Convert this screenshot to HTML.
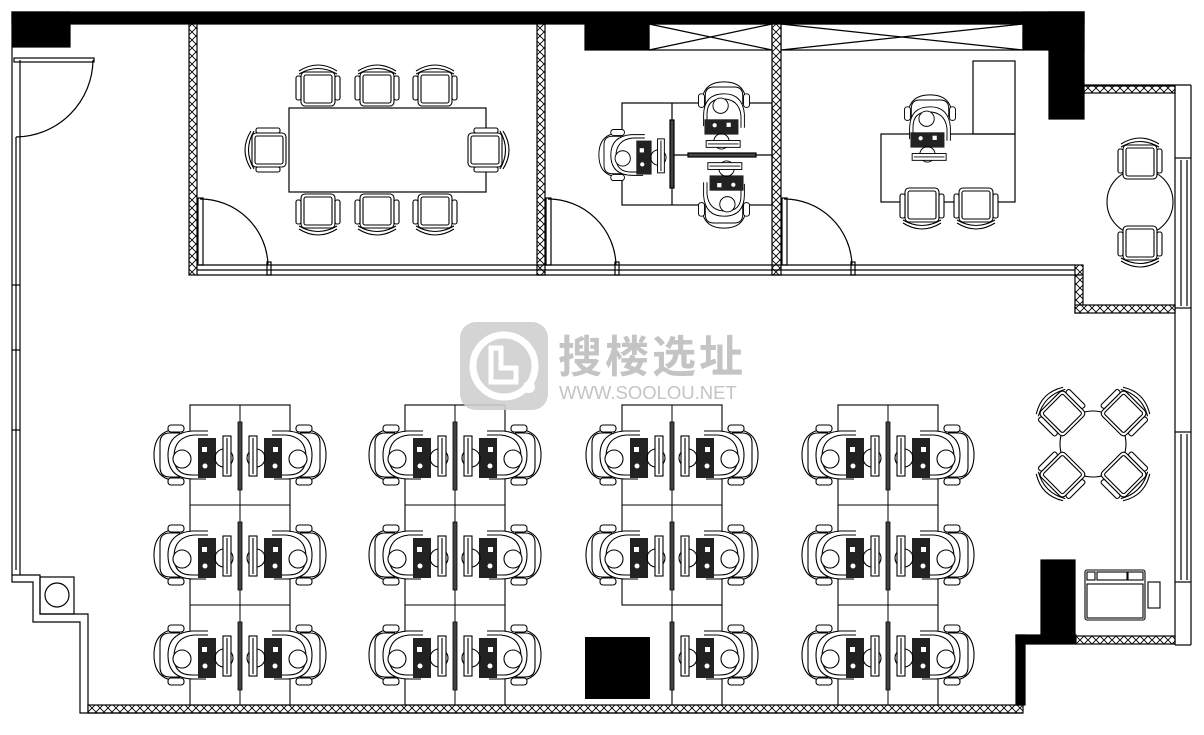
<!DOCTYPE html>
<html><head><meta charset="utf-8"><style>html,body{margin:0;padding:0;background:#fff}svg{display:block}</style></head>
<body>
<svg width="1204" height="735" viewBox="0 0 1204 735" xmlns="http://www.w3.org/2000/svg">
<defs>
<pattern id="hx" width="8" height="8" patternUnits="userSpaceOnUse"><rect width="8" height="8" fill="#fff"/><path d="M0 0L8 8M8 0L0 8" stroke="#000" stroke-width="0.9"/></pattern>
<g id="ch" fill="none" stroke="#000" stroke-width="1.1">
<rect x="-17" y="-19" width="34" height="34" rx="4" fill="#fff"/><rect x="-14" y="-16" width="28" height="28" rx="2"/>
<path d="M-19 13 Q0 24 19 13"/><path d="M-19 16 Q0 28 19 16"/>
<rect x="-22" y="-13" width="5" height="24" rx="2" fill="#fff"/><rect x="17" y="-13" width="5" height="24" rx="2" fill="#fff"/>
</g>
<g id="ws" fill="none" stroke="#000" stroke-width="1.1">
<path d="M-60 -26 Q-86 -26 -86 0 Q-86 26 -60 26" fill="#fff"/>
<path d="M-60 -22 L-70 -22 Q-80 -22 -80 -12 L-80 12 Q-80 22 -70 22 L-60 22"/>
<rect x="-72" y="-30" width="16" height="7" rx="3" fill="#fff"/><rect x="-72" y="23" width="16" height="7" rx="3" fill="#fff"/>
<path d="M-32 -24 L-48 -24 Q-72 -22 -72 0 Q-72 24 -46 24 L-34 24" fill="#fff"/>
<path d="M-32 -20 L-46 -20 Q-66 -18 -66 2 Q-66 20 -48 20 L-36 20"/>
<circle cx="-58" cy="4" r="9" fill="#fff"/>
<rect x="-42" y="-17" width="18" height="40" fill="#222" stroke="none"/>
<rect x="-38" y="-8" width="5" height="5" fill="#fff" stroke="none"/><circle cx="-35" cy="11" r="2.5" fill="#fff" stroke="none"/>
<circle cx="-16" cy="3" r="9"/>
<rect x="-17" y="-19" width="8" height="40" fill="#fff"/><line x1="-13" y1="-17" x2="-13" y2="19"/>
</g>
<g id="pair">
<line x1="0" y1="-50" x2="0" y2="50" stroke="#000"/>
<use href="#ws"/><use href="#ws" transform="scale(-1,1)"/>
<rect x="-2" y="-33" width="4" height="68" fill="#444" stroke="#000" stroke-width="0.8"/>
</g>
</defs>

<g fill="none" stroke="#000" stroke-width="1.2">
<!-- top wall -->
<rect x="12" y="12" width="1072" height="12" fill="#000"/>
<rect x="12" y="12" width="58" height="35" fill="#000"/>
<rect x="585" y="22" width="64" height="28" fill="#000"/>
<rect x="1023" y="12" width="61" height="38" fill="#000"/>
<rect x="1049" y="12" width="35" height="107" fill="#000"/>
<rect x="649" y="24" width="123" height="26"/><path d="M649 24L772 50M649 50L772 24"/>
<rect x="781" y="24" width="242" height="26"/><path d="M781 24L1023 50M781 50L1023 24"/>
<!-- right upper hatch strip -->
<rect x="1084" y="86" width="91" height="7" fill="url(#hx)"/>
<!-- right wall -->
<line x1="1175" y1="85" x2="1175" y2="645"/><line x1="1191" y1="85" x2="1191" y2="645"/>
<line x1="1084" y1="85" x2="1191" y2="85"/>
<line x1="1175" y1="158" x2="1191" y2="158"/><line x1="1175" y1="308" x2="1191" y2="308"/>
<line x1="1175" y1="432" x2="1191" y2="432"/><line x1="1175" y1="582" x2="1191" y2="582"/>
<line x1="1181" y1="160" x2="1181" y2="306"/><line x1="1187" y1="160" x2="1187" y2="306"/>
<line x1="1181" y1="434" x2="1181" y2="580"/><line x1="1187" y1="434" x2="1187" y2="580"/>
<line x1="1175" y1="645" x2="1191" y2="645"/>
<!-- left wall -->
<line x1="12" y1="47" x2="12" y2="575"/><line x1="20" y1="60" x2="20" y2="575"/>
<line x1="16" y1="137" x2="16" y2="570"/>
<line x1="12" y1="285" x2="20" y2="285"/><line x1="12" y1="350" x2="20" y2="350"/><line x1="12" y1="430" x2="20" y2="430"/>
<rect x="14" y="58" width="80" height="4"/>
<path d="M93 60 A78 78 0 0 1 16 137"/>
<!-- bottom left steps -->
<path d="M12 575 L12 582 L33 582 L33 622 L80 622 L80 713 L88 713 L88 614 L40 614 L40 575 Z"/>
<rect x="40" y="577" width="34" height="37"/><circle cx="57" cy="595" r="12"/>
<!-- bottom wall -->
<rect x="88" y="705" width="935" height="8" fill="url(#hx)"/>
<line x1="88" y1="713" x2="1023" y2="713"/>
<rect x="1016" y="635" width="9" height="70" fill="#000"/>
<rect x="1016" y="635" width="60" height="9" fill="#000"/>
<rect x="1041" y="560" width="34" height="80" fill="#000"/>
<rect x="1076" y="636" width="99" height="8" fill="url(#hx)"/>
<!-- right room lower hatch -->
<rect x="1075" y="265" width="8" height="48" fill="url(#hx)"/>
<rect x="1075" y="305" width="100" height="8" fill="url(#hx)"/>
<!-- partitions -->
<rect x="189" y="24" width="8" height="251" fill="url(#hx)"/>
<rect x="537" y="24" width="8" height="251" fill="url(#hx)"/>
<rect x="772" y="24" width="9" height="251" fill="url(#hx)"/>
<line x1="197" y1="265" x2="1075" y2="265"/><line x1="197" y1="275" x2="1083" y2="275"/><line x1="197" y1="270" x2="1075" y2="270"/>
<rect x="198" y="198" width="5" height="67"/><path d="M200 199 A68 68 0 0 1 268 265"/><rect x="267" y="262" width="4" height="13"/>
<rect x="546" y="198" width="5" height="67"/><path d="M548 199 A68 68 0 0 1 616 265"/><rect x="615" y="262" width="4" height="13"/>
<rect x="782" y="198" width="5" height="67"/><path d="M784 199 A68 68 0 0 1 852 265"/><rect x="851" y="262" width="4" height="13"/>
<!-- meeting room -->
<rect x="289" y="108" width="197" height="84"/>
</g>
<use href="#ch" transform="translate(318,87) rotate(180)"/>
<use href="#ch" transform="translate(377,87) rotate(180)"/>
<use href="#ch" transform="translate(435,87) rotate(180)"/>
<use href="#ch" transform="translate(318,213)"/>
<use href="#ch" transform="translate(377,213)"/>
<use href="#ch" transform="translate(435,213)"/>
<use href="#ch" transform="translate(267,150) rotate(90)"/>
<use href="#ch" transform="translate(487,150) rotate(-90)"/>

<!-- office 2 -->
<g fill="none" stroke="#000" stroke-width="1.2">
<rect x="622" y="103" width="150" height="102"/>
<line x1="672" y1="103" x2="672" y2="205"/><line x1="672" y1="155" x2="772" y2="155"/>
<rect x="670" y="120" width="4" height="68" fill="#444"/>
<rect x="688" y="153" width="68" height="4" fill="#444"/>
</g>
<use href="#ws" transform="translate(672,155) scale(0.85)"/>
<use href="#ws" transform="translate(724,155) rotate(90) scale(0.85)"/>
<use href="#ws" transform="translate(724,155) rotate(-90) scale(0.85)"/>

<!-- office 3 -->
<g fill="none" stroke="#000" stroke-width="1.2">
<rect x="973" y="61" width="42" height="73"/>
<rect x="881" y="134" width="134" height="68"/>
</g>
<use href="#ws" transform="translate(930,168) rotate(90) scale(0.85)"/>
<use href="#ch" transform="translate(922,207)"/>
<use href="#ch" transform="translate(976,207)"/>

<!-- round table right -->
<circle cx="1140" cy="202" r="33" fill="none" stroke="#000" stroke-width="1.1"/>
<use href="#ch" transform="translate(1140,160) rotate(180)"/>
<use href="#ch" transform="translate(1140,245)"/>

<!-- 4-chair table -->
<circle cx="1093" cy="444" r="33" fill="#fff" stroke="#000" stroke-width="1.1"/>
<use href="#ch" transform="translate(1061,412) rotate(135)"/>
<use href="#ch" transform="translate(1125,412) rotate(-135)"/>
<use href="#ch" transform="translate(1061,476) rotate(45)"/>
<use href="#ch" transform="translate(1125,476) rotate(-45)"/>

<!-- printer -->
<g fill="none" stroke="#000" stroke-width="1.1">
<rect x="1148" y="582" width="12" height="26" fill="#fff"/>
<rect x="1085" y="570" width="60" height="50" rx="2" fill="#fff"/>
<rect x="1087" y="572" width="8" height="8"/><rect x="1097" y="572" width="30" height="8"/><rect x="1128" y="572" width="15" height="8"/>
<rect x="1087" y="584" width="56" height="34"/>
</g>

<!-- workstation clusters -->
<g fill="none" stroke="#000" stroke-width="1.1">
<rect x="190" y="405" width="100" height="300"/><line x1="190" y1="505" x2="290" y2="505"/><line x1="190" y1="605" x2="290" y2="605"/>
<rect x="405" y="405" width="100" height="300"/><line x1="405" y1="505" x2="505" y2="505"/><line x1="405" y1="605" x2="505" y2="605"/>
<rect x="622" y="405" width="100" height="200"/><line x1="622" y1="505" x2="722" y2="505"/>
<rect x="672" y="605" width="50" height="100"/>
<rect x="838" y="405" width="100" height="300"/><line x1="838" y1="505" x2="938" y2="505"/><line x1="838" y1="605" x2="938" y2="605"/>
</g>
<use href="#pair" transform="translate(240,455)"/><use href="#pair" transform="translate(240,555)"/><use href="#pair" transform="translate(240,655)"/>
<use href="#pair" transform="translate(455,455)"/><use href="#pair" transform="translate(455,555)"/><use href="#pair" transform="translate(455,655)"/>
<use href="#pair" transform="translate(672,455)"/><use href="#pair" transform="translate(672,555)"/>
<use href="#ws" transform="translate(672,655) scale(-1,1)"/><rect x="670" y="622" width="4" height="68" fill="#444" stroke="#000" stroke-width="0.8"/>
<use href="#pair" transform="translate(888,455)"/><use href="#pair" transform="translate(888,555)"/><use href="#pair" transform="translate(888,655)"/>
<rect x="585" y="637" width="65" height="62" fill="#000"/>

<!-- watermark -->
<rect x="460" y="322" width="88" height="88" rx="16" fill="#cfcfcf" opacity="0.9"/>
<circle cx="504" cy="366" r="31" fill="none" stroke="#fff" stroke-width="7"/>
<circle cx="529" cy="387" r="6" fill="#fff"/>
<path d="M491 348 L491 382 L516 382 L516 368 L501 368 L501 348 Z" fill="none" stroke="#fff" stroke-width="5"/>
<text x="558" y="372" font-family="'Noto Sans CJK SC','WenQuanYi Zen Hei',sans-serif" font-size="44" font-weight="bold" fill="#c4c4c4" letter-spacing="3">搜楼选址</text>
<text x="559" y="399" font-family="'Liberation Sans',sans-serif" font-size="18.5" fill="#c4c4c4">WWW.SOOLOU.NET</text>
</svg>
</body></html>
